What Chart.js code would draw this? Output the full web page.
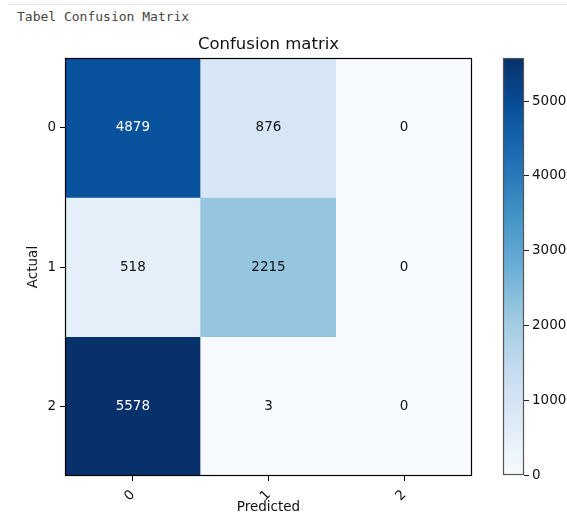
<!DOCTYPE html>
<html>
<head>
<meta charset="utf-8">
<script src="https://cdn.jsdelivr.net/npm/chart.js@4/dist/chart.umd.min.js"></script>
<style>
  body { margin: 0; background: #fff; }
  #page { position: relative; width: 567px; height: 522px; overflow: hidden; }
  #linea { position: absolute; left: 8px; top: 4px; width: 559px; height: 1px; background: #e6e6e6; }
  #encabezado { position: absolute; left: 17px; top: 9px; font: 13px "DejaVu Sans Mono", monospace; color: #444; }
  #matriz { position: absolute; left: 0; top: 0; }
  #barra { position: absolute; left: 480px; top: 0; }
</style>
</head>
<body>
<div id="page">
  <div id="linea"></div>
  <div id="encabezado">Tabel Confusion Matrix</div>
  <canvas id="matriz" width="567" height="522"></canvas>
  <canvas id="barra" width="87" height="522"></canvas>
</div>
<script>
// datos de la matriz
const predictedLabels = ['0', '1', '2'];
const actualLabels = ['0', '1', '2'];
const fila0 = [4879, 876, 0];
const fila1 = [518, 2215, 0];
const fila2 = [5578, 3, 0];
const filas = [fila0, fila1, fila2];
const colorbarTicks = [0, 1000, 2000, 3000, 4000, 5000];
const vmax = 5578;

// mapa de color "Blues"
const blues = ['#f7fbff', '#deebf7', '#c6dbef', '#9ecae1', '#6baed6', '#4292c6', '#2171b5', '#08519c', '#08306b'];

function hexRgb(h) {
    return [parseInt(h.substr(1, 2), 16), parseInt(h.substr(3, 2), 16), parseInt(h.substr(5, 2), 16)];
}

function colorBlues(v) {
    let t = Math.max(0, Math.min(1, v / vmax)) * (blues.length - 1);
    let i = Math.min(Math.floor(t), blues.length - 2);
    let f = t - i;
    let a = hexRgb(blues[i]), b = hexRgb(blues[i + 1]);
    let c = a.map((x, k) => Math.round(x + (b[k] - x) * f));
    return 'rgb(' + c.join(',') + ')';
}

const fuente = { family: 'DejaVu Sans', size: 13.5 };
const colorTexto = '#111';

const anotaciones = {
    id: 'anotaciones',
    afterDatasetsDraw(chart) {
        const ctx = chart.ctx;
        ctx.save();
        ctx.font = '13.5px "DejaVu Sans"';
        ctx.textAlign = 'center';
        ctx.textBaseline = 'middle';
        chart.data.datasets.forEach((ds, i) => {
            const meta = chart.getDatasetMeta(i);
            meta.data.forEach((bar, j) => {
                const valor = filas[i][j];
                ctx.fillStyle = valor > vmax / 2 ? '#ffffff' : colorTexto;
                ctx.fillText(String(valor), bar.x, (bar.y + bar.base) / 2);
            });
        });
        ctx.restore();
    }
};

function marco(color) {
    return {
        id: 'marco',
        afterDraw(chart) {
            const a = chart.chartArea;
            const ctx = chart.ctx;
            ctx.save();
            ctx.strokeStyle = color;
            ctx.lineWidth = 1.2;
            ctx.strokeRect(Math.round(a.left) + 0.5, Math.round(a.top) + 0.5, Math.round(a.right - a.left) - 1, Math.round(a.bottom - a.top) - 1);
            ctx.restore();
        }
    };
}

new Chart(document.getElementById('matriz'), {
    type: 'bar',
    data: {
        labels: predictedLabels,
        datasets: filas.map((fila, r) => ({
            data: fila.map(() => [r, r + 1]),
            backgroundColor: fila.map(v => colorBlues(v)),
            borderWidth: 0,
            barPercentage: 1,
            categoryPercentage: 1,
            grouped: false
        }))
    },
    options: {
        responsive: false,
        animation: false,
        events: [],
        layout: { padding: { left: 20, top: 28, right: 95, bottom: 4 } },
        plugins: {
            legend: { display: false },
            tooltip: { enabled: false },
            title: {
                display: true,
                text: 'Confusion matrix',
                fullSize: false,
                color: colorTexto,
                font: { family: 'DejaVu Sans', size: 16.5, weight: 'normal' },
                padding: { top: 7, bottom: 3.2 }
            }
        },
        scales: {
            x: {
                offset: true,
                grid: { offset: false, drawOnChartArea: false, tickLength: 5, color: '#000' },
                border: { display: false },
                ticks: { color: colorTexto, font: fuente, minRotation: 45, maxRotation: 45, padding: 6 },
                title: { display: true, text: 'Predicted', color: colorTexto, font: fuente, padding: { top: 0, bottom: 2 } },
                afterFit(s) { s.height = 42; }
            },
            y: {
                type: 'linear',
                min: 0,
                max: 3,
                reverse: true,
                afterBuildTicks(s) { s.ticks = actualLabels.map((l, i) => ({ value: i + 0.5 })); },
                grid: { drawOnChartArea: false, tickLength: 5, color: '#000' },
                border: { display: false },
                ticks: { color: colorTexto, font: fuente, padding: 4, callback: v => actualLabels[Math.floor(v)] },
                title: { display: true, text: 'Actual', color: colorTexto, font: fuente, padding: { top: 5, bottom: 0 } },
                afterFit(s) { s.width = 45; }
            }
        }
    },
    plugins: [anotaciones, marco('#000')]
});

// barra de color
new Chart(document.getElementById('barra'), {
    type: 'bar',
    data: {
        labels: [''],
        datasets: [{
            data: [[0, vmax]],
            borderWidth: 0,
            barPercentage: 1,
            categoryPercentage: 1,
            backgroundColor(c) {
                const a = c.chart.chartArea;
                if (!a) return blues[0];
                const g = c.chart.ctx.createLinearGradient(0, a.bottom, 0, a.top);
                blues.forEach((col, i) => g.addColorStop(i / (blues.length - 1), col));
                return g;
            }
        }]
    },
    options: {
        responsive: false,
        animation: false,
        events: [],
        layout: { padding: { left: 23, top: 58, right: 0, bottom: 47 } },
        plugins: { legend: { display: false }, tooltip: { enabled: false } },
        scales: {
            x: { display: false },
            y: {
                position: 'right',
                min: 0,
                max: vmax,
                afterBuildTicks(s) { s.ticks = colorbarTicks.map(v => ({ value: v })); },
                grid: { drawOnChartArea: false, tickLength: 5, color: '#222' },
                border: { display: false },
                ticks: { color: colorTexto, font: fuente, padding: 3, callback: v => String(v) },
                afterFit(s) { s.width = 43; }
            }
        }
    },
    plugins: [marco('#555')]
});
</script>
</body>
</html>
